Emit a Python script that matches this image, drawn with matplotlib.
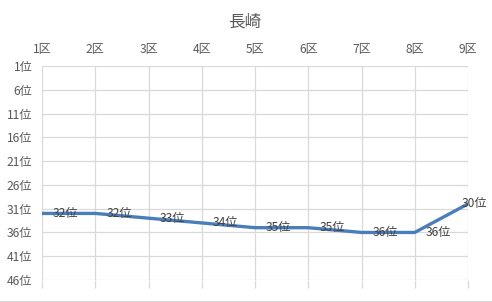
import matplotlib
matplotlib.use('agg')

import matplotlib.pyplot as plt

plt.rcParams['font.family'] = ['Noto Sans CJK JP', 'DejaVu Sans']

# data
sections = ['1区', '2区', '3区', '4区', '5区', '6区', '7区', '8区', '9区']
ranks = [32, 32, 33, 34, 35, 35, 36, 36, 30]
rank_ticks = [1, 6, 11, 16, 21, 26, 31, 36, 41, 46]

grid_c = '#d9d9d9'
text_c = '#595959'
line_c = '#4a7ebb'

fig = plt.figure(figsize=(4.92, 3.02), dpi=100)
ax = fig.add_axes([42 / 492, 1 - 280 / 302, 426 / 492, 214 / 302])

x = list(range(len(sections)))
ax.plot(x, ranks, color=line_c, lw=2.4, solid_capstyle='round', zorder=3)

for i, r in enumerate(ranks):
    if i == len(ranks) - 1:
        ax.annotate(f'{r}位', (i, r), xytext=(14, 0), textcoords='offset points',
                    ha='right', va='center', fontsize=8.7, color='#404040', zorder=4)
    else:
        ax.annotate(f'{r}位', (i, r), xytext=(8, 0), textcoords='offset points',
                    ha='left', va='center', fontsize=8.7, color='#404040', zorder=4)

ax.set_xlim(0, len(sections) - 1)
ax.set_ylim(46, 1)
ax.set_xticks(x)
ax.set_xticklabels(sections)
ax.set_yticks(rank_ticks)
ax.set_yticklabels([f'{t}位' for t in rank_ticks])

ax.grid(True, color=grid_c, lw=0.9)
ax.set_axisbelow(True)
for s in ax.spines.values():
    s.set_visible(False)

ax.tick_params(axis='x', bottom=True, top=False, labelbottom=False, labeltop=True,
               length=6, width=0.9, color=grid_c, pad=1.5, labelsize=8.7, labelcolor=text_c)
ax.tick_params(axis='y', left=False, length=0, pad=7, labelsize=8.7, labelcolor=text_c)

fig.text(245 / 492, 1 - 22 / 302, '長崎', ha='center', va='center', fontsize=12, color=text_c)

# chart border line at bottom
fig.add_artist(plt.Line2D([0, 1], [1 - 300.5 / 302] * 2, color=grid_c, lw=0.9,
                          transform=fig.transFigure))

fig.savefig('out.png', dpi=100)
